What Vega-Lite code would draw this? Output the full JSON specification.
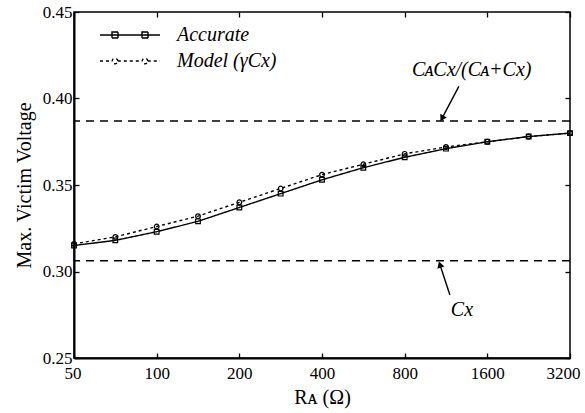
{
  "$schema": "https://vega.github.io/schema/vega-lite/v6.json",
  "width": 496,
  "height": 346,
  "autosize": {"type": "none"},
  "padding": {"left": 74, "top": 12, "right": 15, "bottom": 55},
  "background": "white",
  "config": {
    "view": {"stroke": "black", "strokeWidth": 1.5},
    "font": "Liberation Serif",
    "axis": {
      "labelFont": "Liberation Serif",
      "labelFontSize": 17,
      "labelColor": "black",
      "titleFont": "Liberation Serif",
      "titleFontSize": 20,
      "titleFontWeight": "normal",
      "titleColor": "black",
      "tickColor": "black",
      "tickSize": -5,
      "tickWidth": 1.3,
      "grid": false,
      "domainColor": "black",
      "domainWidth": 2
    }
  },
  "datasets": {
    "curves": [
      {"RA": 50, "V": 0.315, "series": "Accurate"},
      {"RA": 70.7, "V": 0.318, "series": "Accurate"},
      {"RA": 100, "V": 0.323, "series": "Accurate"},
      {"RA": 141.4, "V": 0.329, "series": "Accurate"},
      {"RA": 200, "V": 0.337, "series": "Accurate"},
      {"RA": 282.8, "V": 0.345, "series": "Accurate"},
      {"RA": 400, "V": 0.353, "series": "Accurate"},
      {"RA": 565.7, "V": 0.360, "series": "Accurate"},
      {"RA": 800, "V": 0.366, "series": "Accurate"},
      {"RA": 1131.4, "V": 0.371, "series": "Accurate"},
      {"RA": 1600, "V": 0.375, "series": "Accurate"},
      {"RA": 2262.7, "V": 0.378, "series": "Accurate"},
      {"RA": 3200, "V": 0.380, "series": "Accurate"},
      {"RA": 50, "V": 0.316, "series": "Model (γCx)"},
      {"RA": 70.7, "V": 0.320, "series": "Model (γCx)"},
      {"RA": 100, "V": 0.326, "series": "Model (γCx)"},
      {"RA": 141.4, "V": 0.332, "series": "Model (γCx)"},
      {"RA": 200, "V": 0.340, "series": "Model (γCx)"},
      {"RA": 282.8, "V": 0.348, "series": "Model (γCx)"},
      {"RA": 400, "V": 0.356, "series": "Model (γCx)"},
      {"RA": 565.7, "V": 0.362, "series": "Model (γCx)"},
      {"RA": 800, "V": 0.368, "series": "Model (γCx)"},
      {"RA": 1131.4, "V": 0.372, "series": "Model (γCx)"},
      {"RA": 1600, "V": 0.375, "series": "Model (γCx)"},
      {"RA": 2262.7, "V": 0.378, "series": "Model (γCx)"},
      {"RA": 3200, "V": 0.380, "series": "Model (γCx)"}
    ],
    "levels": [
      {"level": 0.387, "name": "CACx/(CA+Cx)"},
      {"level": 0.3062, "name": "Cx"}
    ],
    "arrows": [
      {"id": "top", "RA": 1260, "V": 0.407, "RA2": 1094, "V2": 0.3885},
      {"id": "bottom", "RA": 1169, "V": 0.2864, "RA2": 1075, "V2": 0.3040}
    ],
    "labels": [
      {"RA": 1404, "V": 0.4165, "label": "CᴀCx/(Cᴀ+Cx)"},
      {"RA": 1293, "V": 0.2777, "label": "Cx"}
    ]
  },
  "layer": [
    {
      "data": {"name": "levels"},
      "mark": {"type": "rule", "color": "black", "strokeWidth": 1.6, "strokeDash": [8, 6]},
      "encoding": {
        "y": {"field": "level", "type": "quantitative", "scale": {"domain": [0.25, 0.45], "nice": false, "zero": false}, "axis": null}
      }
    },
    {
      "data": {"name": "curves"},
      "mark": {"type": "line", "color": "black", "strokeWidth": 1.4},
      "encoding": {
        "x": {
          "field": "RA", "type": "quantitative",
          "scale": {"type": "log", "base": 2, "domain": [50, 3200], "nice": false},
          "axis": {"orient": "bottom", "values": [50, 100, 200, 400, 800, 1600, 3200], "format": "d", "labelFlush": true, "labelFlushOffset": 10, "labelPadding": 12, "title": "Rᴀ (Ω)", "titlePadding": 6, "domain": true}
        },
        "y": {
          "field": "V", "type": "quantitative",
          "scale": {"domain": [0.25, 0.45], "nice": false, "zero": false},
          "axis": {"orient": "left", "values": [0.25, 0.3, 0.35, 0.4, 0.45], "format": ".2f", "labelPadding": 7, "title": "Max. Victim Voltage", "titlePadding": 8, "domain": true}
        },
        "strokeDash": {
          "field": "series", "type": "nominal",
          "scale": {"domain": ["Accurate", "Model (γCx)"], "range": [[1, 0], [3, 3]]},
          "legend": {
            "orient": "none", "legendX": 45, "legendY": 12, "title": null,
            "labelFont": "Liberation Serif", "labelFontStyle": "italic", "labelFontSize": 20, "labelColor": "black",
            "symbolType": "M-3,0H3M-1.8,-0.3H-1.2V0.3H-1.8ZM1.2,-0.3H1.8V0.3H1.2Z",
            "symbolSize": 400, "symbolStrokeWidth": 1.4, "symbolStrokeColor": "black", "symbolFillColor": "white",
            "labelOffset": 36,
            "rowPadding": 5,
            "encode": {
              "symbols": {
                "update": {
                  "shape": {"signal": "datum.value === 'Accurate' ? 'M-3,0H3M-1.8,-0.3H-1.2V0.3H-1.8ZM1.2,-0.3H1.8V0.3H1.2Z' : 'M-3,0H-1.78M-1.22,0H1.22M1.78,0H3M-1.22,0A0.28,0.28 0 1,0 -1.78,0A0.28,0.28 0 1,0 -1.22,0ZM1.78,0A0.28,0.28 0 1,0 1.22,0A0.28,0.28 0 1,0 1.78,0Z'"}
                }
              }
            }
          }
        }
      }
    },
    {
      "data": {"name": "curves"},
      "transform": [{"filter": "datum.series === 'Accurate'"}],
      "mark": {"type": "point", "shape": "square", "filled": false, "color": "black", "size": 22, "strokeWidth": 1.2, "opacity": 1},
      "encoding": {
        "x": {"field": "RA", "type": "quantitative", "scale": {"type": "log", "base": 2, "domain": [50, 3200], "nice": false}, "axis": null},
        "y": {"field": "V", "type": "quantitative", "scale": {"domain": [0.25, 0.45], "nice": false, "zero": false}, "axis": null}
      }
    },
    {
      "data": {"name": "curves"},
      "transform": [{"filter": "datum.series !== 'Accurate'"}],
      "mark": {"type": "point", "shape": "circle", "filled": false, "color": "black", "size": 22, "strokeWidth": 1.2, "opacity": 1},
      "encoding": {
        "x": {"field": "RA", "type": "quantitative", "scale": {"type": "log", "base": 2, "domain": [50, 3200], "nice": false}, "axis": null},
        "y": {"field": "V", "type": "quantitative", "scale": {"domain": [0.25, 0.45], "nice": false, "zero": false}, "axis": null}
      }
    },
    {
      "data": {"name": "arrows"},
      "mark": {"type": "rule", "color": "black", "strokeWidth": 1.4},
      "encoding": {
        "x": {
          "field": "RA", "type": "quantitative",
          "scale": {"type": "log", "base": 2, "domain": [50, 3200], "nice": false},
          "axis": {"orient": "top", "values": [50, 100, 200, 400, 800, 1600, 3200], "labels": false, "title": null, "domain": false}
        },
        "y": {
          "field": "V", "type": "quantitative",
          "scale": {"domain": [0.25, 0.45], "nice": false, "zero": false},
          "axis": {"orient": "right", "values": [0.25, 0.3, 0.35, 0.4, 0.45], "labels": false, "title": null, "domain": false}
        },
        "x2": {"field": "RA2"},
        "y2": {"field": "V2"}
      }
    },
    {
      "data": {"name": "arrows"},
      "transform": [{"filter": "datum.id === 'top'"}],
      "mark": {"type": "point", "shape": "triangle-up", "filled": true, "color": "black", "size": 55, "angle": 209, "opacity": 1},
      "encoding": {
        "x": {"field": "RA2", "type": "quantitative", "scale": {"type": "log", "base": 2, "domain": [50, 3200], "nice": false}, "axis": null},
        "y": {"field": "V2", "type": "quantitative", "scale": {"domain": [0.25, 0.45], "nice": false, "zero": false}, "axis": null}
      }
    },
    {
      "data": {"name": "arrows"},
      "transform": [{"filter": "datum.id === 'bottom'"}],
      "mark": {"type": "point", "shape": "triangle-up", "filled": true, "color": "black", "size": 55, "angle": 342, "opacity": 1},
      "encoding": {
        "x": {"field": "RA2", "type": "quantitative", "scale": {"type": "log", "base": 2, "domain": [50, 3200], "nice": false}, "axis": null},
        "y": {"field": "V2", "type": "quantitative", "scale": {"domain": [0.25, 0.45], "nice": false, "zero": false}, "axis": null}
      }
    },
    {
      "data": {"name": "labels"},
      "mark": {"type": "text", "font": "Liberation Serif", "fontStyle": "italic", "fontSize": 20, "color": "black", "align": "center", "baseline": "middle"},
      "encoding": {
        "x": {"field": "RA", "type": "quantitative", "scale": {"type": "log", "base": 2, "domain": [50, 3200], "nice": false}, "axis": null},
        "y": {"field": "V", "type": "quantitative", "scale": {"domain": [0.25, 0.45], "nice": false, "zero": false}, "axis": null},
        "text": {"field": "label"}
      }
    }
  ],
  "resolve": {"axis": {"x": "independent", "y": "independent"}}
}
